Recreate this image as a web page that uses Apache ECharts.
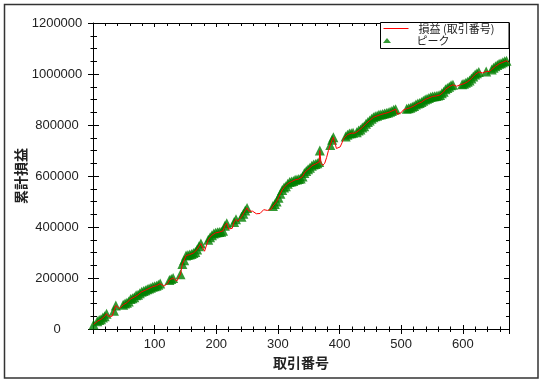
<!DOCTYPE html>
<html>
<head>
<meta charset="utf-8">
<script src="https://cdn.jsdelivr.net/npm/echarts@6/dist/echarts.min.js"></script>
<style>html,body{margin:0;padding:0;background:#fff;}#c{width:543px;height:384px;}</style>
</head>
<body>
<div id="c"></div>
<script>
const trades = [1,4,7,10,13,16,19,22,25,28,31,34,37,40,43,46,49,52,55,58,61,64,67,70,73,76,79,82,85,88,91,94,97,100,103,106,109,112,115,118,121,124,127,130,133,136,139,142,145,148,151,154,157,160,163,166,169,172,175,178,181,184,187,190,193,196,199,202,205,208,211,214,217,220,223,226,229,232,235,238,241,244,247,250,253,256,259,262,265,268,271,274,277,280,283,286,289,292,295,298,301,304,307,310,313,316,319,322,325,328,331,334,337,340,343,346,349,352,355,358,361,364,367,368,370,373,376,379,382,385,388,390,392,395,398,401,404,407,410,413,416,419,422,425,428,431,434,437,440,443,446,449,452,455,458,461,464,467,470,473,476,479,482,485,488,491,494,497,500,503,506,509,512,515,518,521,524,527,530,533,536,539,542,545,548,551,554,557,560,563,566,569,572,575,578,581,584,587,590,593,596,599,602,605,608,611,614,617,620,623,626,629,632,635,638,641,644,647,650,653,656,659,662,665,668,671,674];
const pnl = [18000,16000,30000,35000,38000,45000,50000,60000,50000,47000,50000,72000,92000,85000,80000,86000,95000,100000,103000,108000,118000,121000,125000,132000,134000,140000,146000,149000,152000,156000,159000,162000,166000,168000,170000,174000,178000,172000,168000,170000,178000,192000,196000,200000,194000,188000,195000,215000,255000,270000,288000,290000,292000,294000,298000,302000,312000,325000,335000,318000,305000,300000,350000,360000,368000,375000,377000,379000,380000,381000,385000,405000,415000,392000,386000,395000,420000,430000,422000,420000,440000,452000,465000,475000,462000,458000,462000,455000,452000,458000,453000,460000,468000,473000,465000,460000,470000,482000,490000,500000,515000,530000,545000,555000,560000,570000,576000,578000,580000,585000,586000,588000,590000,598000,612000,620000,626000,632000,640000,645000,647000,650000,655000,700000,650000,642000,650000,672000,700000,722000,742000,752000,735000,708000,712000,714000,730000,748000,755000,762000,767000,768000,770000,768000,772000,778000,782000,790000,795000,805000,812000,818000,825000,830000,834000,836000,840000,841000,843000,845000,847000,849000,852000,855000,860000,862000,842000,838000,848000,858000,860000,864000,866000,868000,872000,875000,880000,884000,886000,890000,895000,900000,903000,906000,910000,912000,913000,914000,916000,918000,925000,930000,940000,945000,950000,956000,958000,954000,952000,955000,958000,960000,962000,966000,970000,975000,982000,990000,998000,1003000,1008000,1006000,1004000,1007000,1010000,1008000,1010000,1018000,1025000,1030000,1035000,1040000,1042000,1046000,1050000,1052000,1046000];
const seriesNames = ['損益 (取引番号)', 'ピーク'];
const xName = '取引番号';
const yName = '累計損益';

const lineData = trades.map((t, i) => [t, pnl[i]]);
// peaks: trades where the cumulative P&L reaches a new high
const peakData = [];
let best = -Infinity;
for (let i = 0; i < pnl.length; i++) {
  if (pnl[i] > best) { best = pnl[i]; peakData.push([trades[i], pnl[i]]); }
}

const BLACK = '#000';
const TXT = '#222';
const RED = '#ff0000';
const GREEN = '#008000';
const NUMFONT = '"Liberation Sans", Arial, sans-serif';
const JPFONT = '"Noto Sans CJK JP", sans-serif';
const gridPos = {left: 93, right: 34, top: 23, bottom: 55};
const xBase = {type: 'value', min: 0, max: 675, interval: 100, splitLine: {show: false}};
const yBase = {type: 'value', min: 0, max: 1200000, interval: 200000, splitLine: {show: false}};

const chart = echarts.init(document.getElementById('c'), null, {renderer: 'canvas'});
chart.setOption({
  animation: false,
  backgroundColor: '#fff',
  grid: [Object.assign({}, gridPos), Object.assign({}, gridPos)],
  xAxis: [
    Object.assign({}, xBase, {
      gridIndex: 0, position: 'bottom',
      axisLine: {show: true, onZero: false, lineStyle: {color: BLACK, width: 1}},
      axisTick: {show: true, inside: false, length: 5, lineStyle: {color: BLACK}},
      minorTick: {show: true, splitNumber: 5, length: 3, lineStyle: {color: BLACK}},
      axisLabel: {showMinLabel: false, showMaxLabel: false, margin: 9, fontSize: 13, color: TXT, fontFamily: NUMFONT,
        formatter: v => String(v)},
      name: xName, nameLocation: 'middle', nameGap: 26,
      nameTextStyle: {fontWeight: 'bold', fontSize: 14, color: TXT, fontFamily: JPFONT}
    }),
    Object.assign({}, xBase, {
      gridIndex: 0, position: 'top',
      axisLine: {show: true, onZero: false, lineStyle: {color: BLACK, width: 1}},
      axisTick: {show: true, inside: true, length: 4, lineStyle: {color: BLACK}},
      minorTick: {show: true, splitNumber: 5, length: 3, lineStyle: {color: BLACK}},
      axisLabel: {show: false}
    }),
    Object.assign({}, xBase, {
      gridIndex: 1, position: 'bottom',
      axisLine: {show: false, onZero: false},
      axisTick: {show: true, inside: true, length: 4, lineStyle: {color: BLACK}},
      minorTick: {show: true, splitNumber: 5, length: 2.5, lineStyle: {color: BLACK}},
      axisLabel: {show: false}
    })
  ],
  yAxis: [
    Object.assign({}, yBase, {
      gridIndex: 0, position: 'left',
      axisLine: {show: true, onZero: false, lineStyle: {color: BLACK, width: 1}},
      axisTick: {show: true, inside: false, length: 5, lineStyle: {color: BLACK}},
      minorTick: {show: true, splitNumber: 4, length: 2.5, lineStyle: {color: BLACK}},
      axisLabel: {align: 'center', margin: 36, fontSize: 13, color: TXT, fontFamily: NUMFONT,
        formatter: v => String(v)},
      name: yName, nameLocation: 'middle', nameGap: 65, nameRotate: 90, nameMoveOverlap: false,
      nameTextStyle: {fontWeight: 'bold', fontSize: 14, color: TXT, fontFamily: JPFONT}
    }),
    Object.assign({}, yBase, {
      gridIndex: 0, position: 'right',
      axisLine: {show: true, onZero: false, lineStyle: {color: BLACK, width: 1}},
      axisTick: {show: true, inside: true, length: 5, lineStyle: {color: BLACK}},
      minorTick: {show: true, splitNumber: 4, length: 3, lineStyle: {color: BLACK}},
      axisLabel: {show: false}
    }),
    Object.assign({}, yBase, {
      gridIndex: 1, position: 'left',
      axisLine: {show: false, onZero: false},
      axisTick: {show: true, inside: true, length: 6, lineStyle: {color: BLACK}},
      minorTick: {show: true, splitNumber: 4, length: 4, lineStyle: {color: BLACK}},
      axisLabel: {show: false}
    })
  ],
  legend: [
    {
      left: 383, top: 22, orient: 'vertical', padding: 0, itemGap: 0,
      itemWidth: 25, itemHeight: 1, z: 6,
      lineStyle: {width: 1, color: RED},
      textStyle: {fontSize: 11, color: TXT, fontFamily: JPFONT, lineHeight: 13, padding: [0, 0, 0, 5]},
      data: [seriesNames[0]]
    },
    {
      left: 383, top: 34, orient: 'vertical', padding: 0, itemGap: 0,
      itemWidth: 25, itemHeight: 5, z: 6, symbolKeepAspect: true,
      textStyle: {fontSize: 11, color: TXT, fontFamily: JPFONT, lineHeight: 13, padding: [0, 0, 0, 12]},
      data: [{name: seriesNames[1], icon: 'path://M4,0L8,5L0,5Z', itemStyle: {color: GREEN}}]
    }
  ],
  graphic: [
    {type: 'rect', z: 5, shape: {x: 380.5, y: 22.5, width: 128.5, height: 26}, style: {fill: '#fff', stroke: BLACK, lineWidth: 1}},
    {type: 'rect', z: 5, shape: {x: 4.5, y: 4.5, width: 533.5, height: 373.5}, style: {fill: 'none', stroke: '#333', lineWidth: 1.5}}
  ],
  series: [
    {
      name: seriesNames[1], type: 'scatter', xAxisIndex: 0, yAxisIndex: 0,
      symbol: 'triangle', symbolSize: 10, z: 2,
      itemStyle: {color: GREEN},
      data: peakData
    },
    {
      name: seriesNames[0], type: 'line', xAxisIndex: 0, yAxisIndex: 0,
      symbol: 'none', showSymbol: false, z: 3,
      lineStyle: {color: RED, width: 1},
      itemStyle: {color: RED},
      data: lineData
    }
  ]
});
</script>
</body>
</html>
